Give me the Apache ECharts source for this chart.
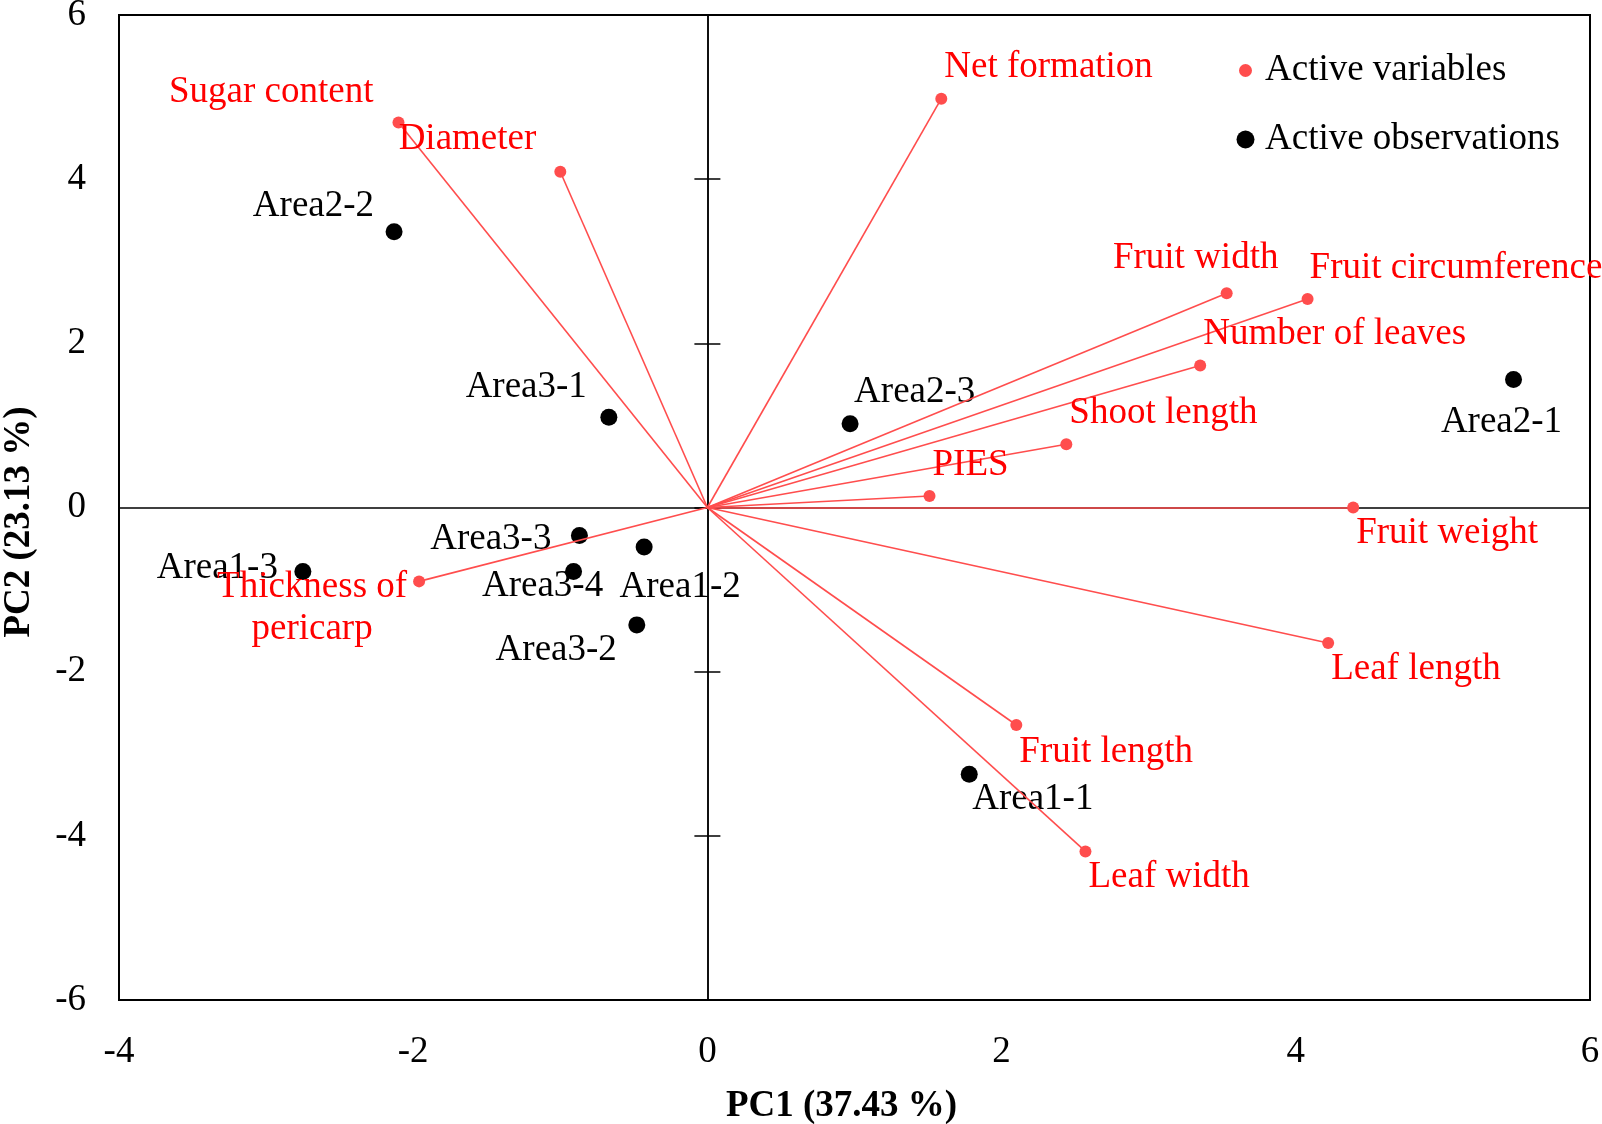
<!DOCTYPE html>
<html>
<head>
<meta charset="utf-8">
<script src="https://cdn.jsdelivr.net/npm/echarts@6/dist/echarts.min.js"></script>
<style>
html,body{margin:0;padding:0;background:#fff;}
#chart{width:1602px;height:1124px;}
</style>
</head>
<body>
<div id="chart"></div>
<script>
// ---- Data ----
const varNames = ['Sugar content','Diameter','Net formation','Fruit width','Fruit circumference','Number of leaves','Shoot length','PIES','Fruit weight','Leaf length','Fruit length','Leaf width','Thickness of\npericarp'];
const varPC1 = [-2.10,-1.00,1.59,3.53,4.08,3.35,2.44,1.51,4.39,4.22,2.10,2.57,-1.96];
const varPC2 = [4.69,4.09,4.98,2.61,2.54,1.73,0.77,0.14,0.00,-1.65,-2.65,-4.19,-0.90];

const obsNames = ['Area2-2','Area3-1','Area2-3','Area2-1','Area1-3','Area3-3','Area1-2','Area3-4','Area3-2','Area1-1'];
const obsPC1 = [-2.13,-0.67,0.97,5.48,-2.75,-0.87,-0.43,-0.91,-0.48,1.78];
const obsPC2 = [3.36,1.10,1.02,1.56,-0.78,-0.34,-0.48,-0.78,-1.43,-3.25];

const xMin = -4, xMax = 6, xInterval = 2;
const yMin = -6, yMax = 6, yInterval = 2;
const xTitle = 'PC1 (37.43 %)';
const yTitle = 'PC2 (23.13 %)';
const legendNames = ['Active variables','Active observations'];

// ---- Label placement (style, kept separate from data) ----
const LBL_DY = 3;
const varLabelPlace = {
  'Sugar content': ['right', -25, -33],
  'Diameter': ['right', -24, -35],
  'Net formation': ['left', 3, -34],
  'Fruit width': ['center', -31, -38],
  'Fruit circumference': ['left', 2, -34],
  'Number of leaves': ['left', 3, -34],
  'Shoot length': ['left', 3, -34],
  'PIES': ['left', 3, -34],
  'Fruit weight': ['left', 3, 23],
  'Leaf length': ['left', 3, 23],
  'Fruit length': ['left', 3, 24],
  'Leaf width': ['left', 3, 23],
  'Thickness of\npericarp': ['center', -107, 24]
};
const obsLabelPlace = {
  'Area2-2': ['right', -20, -28],
  'Area3-1': ['right', -22, -33],
  'Area2-3': ['left', 4, -34],
  'Area2-1': ['center', -12, 40],
  'Area1-3': ['right', -25, -6],
  'Area3-3': ['right', -28, 1],
  'Area1-2': ['center', 36, 37],
  'Area3-4': ['center', -31, 12],
  'Area3-2': ['right', -20, 22],
  'Area1-1': ['left', 3, 22]
};

const FONT = "'Liberation Serif','Times New Roman',serif";
const FS = 37;
const LINE_RED = '#FF4D4D';
const TEXT_RED = '#FF0000';

function mkLabel(place, color) {
  return {
    show: true,
    formatter: '{b}',
    position: 'inside',
    align: place[0],
    verticalAlign: 'middle',
    offset: [place[1], place[2] + LBL_DY],
    color: color,
    opacity: 1,
    fontFamily: FONT,
    fontSize: FS,
    lineHeight: 42
  };
}

const vectorData = varNames.map((n, i) => ({ coords: [[0, 0], [varPC1[i], varPC2[i]]] }));
const varPoints = varNames.map((n, i) => ({
  name: n, value: [varPC1[i], varPC2[i]],
  label: mkLabel(varLabelPlace[n], TEXT_RED)
}));
const obsPoints = obsNames.map((n, i) => ({
  name: n, value: [obsPC1[i], obsPC2[i]],
  label: mkLabel(obsLabelPlace[n], '#000')
}));

const chart = echarts.init(document.getElementById('chart'), null, { renderer: 'canvas' });
const axisCommonX = { type: 'value', min: xMin, max: xMax, interval: xInterval, gridIndex: 0, splitLine: { show: false } };
const axisCommonY = { type: 'value', min: yMin, max: yMax, interval: yInterval, gridIndex: 0, splitLine: { show: false } };

chart.setOption({
  animation: false,
  backgroundColor: '#fff',
  textStyle: { fontFamily: FONT },
  grid: { left: 119, top: 15, right: 12, bottom: 124, outerBoundsMode: 'none', containLabel: false, show: true, borderColor: '#000', borderWidth: 2, backgroundColor: 'transparent' },
  legend: {
    data: [
      { name: legendNames[0], itemStyle: { borderColor: '#fff', borderWidth: 5 } },
      { name: legendNames[1] }
    ],
    orient: 'vertical',
    left: 1229,
    top: 47,
    itemWidth: 29,
    itemHeight: 18,
    itemGap: 32,
    icon: 'circle',
    textStyle: { fontFamily: FONT, fontSize: FS, color: '#000' }
  },
  xAxis: [
    Object.assign({}, axisCommonX, {
      position: 'bottom',
      axisLine: { show: false, onZero: false },
      axisTick: { show: false },
      axisLabel: { show: true, margin: 34, color: '#000', fontFamily: FONT, fontSize: FS },
      name: xTitle, nameLocation: 'middle', nameGap: 88,
      nameTextStyle: { fontFamily: FONT, fontSize: FS, fontWeight: 'bold', color: '#000', padding: [0, 26, 0, 0] }
    }),
    Object.assign({}, axisCommonX, {
      position: 'bottom',
      axisLine: { show: true, onZero: true, onZeroAxisIndex: 0, lineStyle: { color: '#000', width: 1.5 } },
      axisTick: { show: false },
      axisLabel: { show: false }
    })
  ],
  yAxis: [
    Object.assign({}, axisCommonY, {
      position: 'left',
      axisLine: { show: false, onZero: false },
      axisTick: { show: false },
      axisLabel: { show: true, margin: 33, color: '#000', fontFamily: FONT, fontSize: FS },
      name: yTitle, nameLocation: 'middle', nameGap: 81, nameRotate: 90,
      nameTextStyle: { fontFamily: FONT, fontSize: FS, fontWeight: 'bold', color: '#000', padding: [0, 29, 0, 0] }
    }),
    Object.assign({}, axisCommonY, {
      position: 'left',
      axisLine: { show: true, onZero: true, onZeroAxisIndex: 0, lineStyle: { color: '#000', width: 1.5 } },
      axisTick: { show: true, inside: false, length: 13, lineStyle: { color: '#000', width: 1.5 } },
      axisLabel: { show: false }
    }),
    Object.assign({}, axisCommonY, {
      position: 'left',
      axisLine: { show: true, onZero: true, onZeroAxisIndex: 0, lineStyle: { color: '#000', width: 1.5 } },
      axisTick: { show: true, inside: true, length: 13, lineStyle: { color: '#000', width: 1.5 } },
      axisLabel: { show: false }
    })
  ],
  series: [
    {
      name: 'vectors',
      type: 'lines',
      coordinateSystem: 'cartesian2d',
      xAxisIndex: 0, yAxisIndex: 0,
      polyline: false,
      symbol: ['none', 'none'],
      lineStyle: { color: LINE_RED, width: 1.6, opacity: 1 },
      data: vectorData,
      z: 3
    },
    {
      name: legendNames[1],
      type: 'scatter',
      xAxisIndex: 0, yAxisIndex: 0,
      symbol: 'circle',
      symbolSize: 17,
      itemStyle: { color: '#000', opacity: 1 },
      emphasis: { disabled: true },
      data: obsPoints,
      z: 2
    },
    {
      name: legendNames[0],
      type: 'scatter',
      xAxisIndex: 0, yAxisIndex: 0,
      symbol: 'circle',
      symbolSize: 12,
      itemStyle: { color: LINE_RED, opacity: 1 },
      emphasis: { disabled: true },
      data: varPoints,
      z: 4
    }
  ]
});
</script>
</body>
</html>
